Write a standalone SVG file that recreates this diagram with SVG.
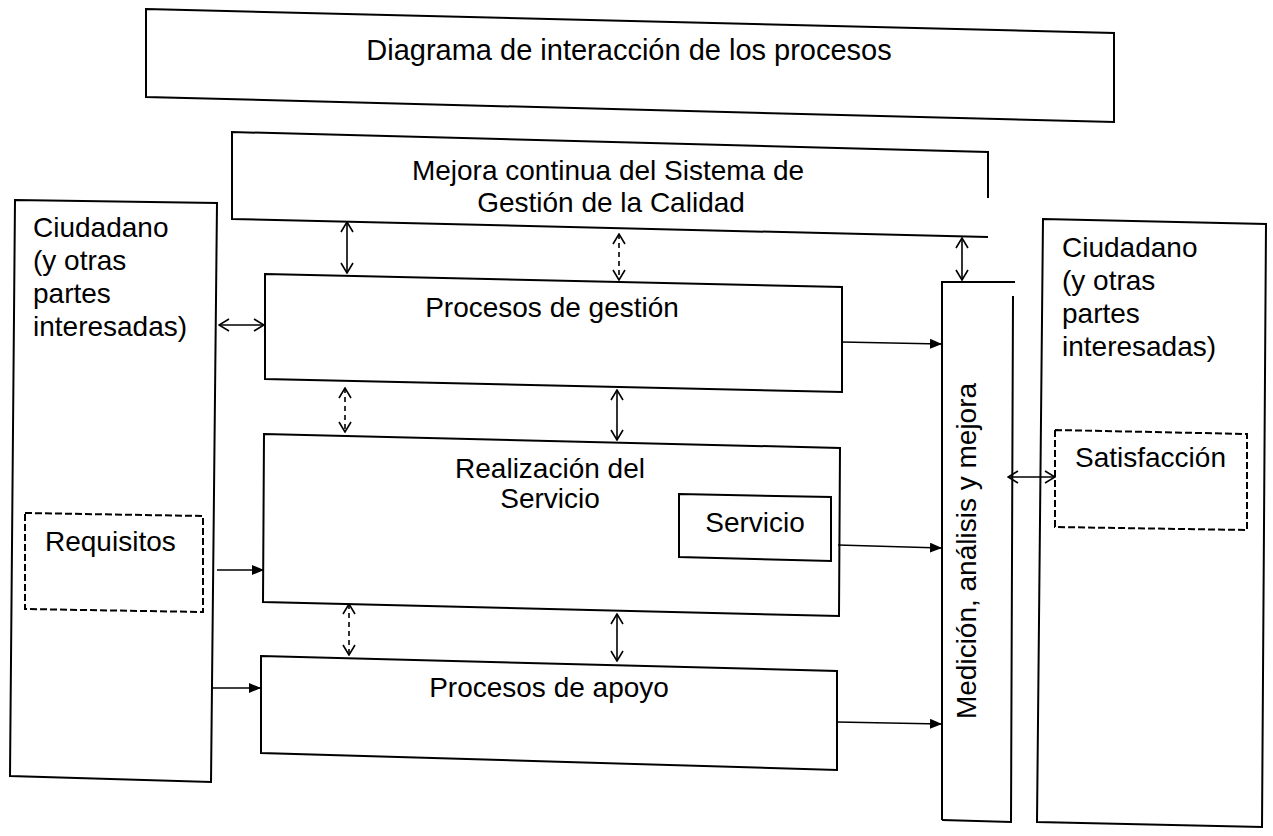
<svg xmlns="http://www.w3.org/2000/svg" width="1273" height="836" viewBox="0 0 1273 836">
<style>
.b{fill:none;stroke:#000;stroke-width:2}
.d{fill:none;stroke:#000;stroke-width:2;stroke-dasharray:7,3}
.t{font-family:"Liberation Sans",Arial,sans-serif;font-size:28px;fill:#000}
.c{text-anchor:middle}
.a1{fill:none;stroke:#000;stroke-width:1.6;marker-end:url(#tri)}
.a2{fill:none;stroke:#000;stroke-width:1.6;marker-start:url(#v);marker-end:url(#v)}
.a2d{fill:none;stroke:#000;stroke-width:1.6;stroke-dasharray:5,4;marker-start:url(#v);marker-end:url(#v)}
</style>
<defs>
<marker id="tri" markerUnits="userSpaceOnUse" markerWidth="12" markerHeight="10" refX="11" refY="5" orient="auto"><path d="M0,0 L12,5 L0,10 Z" fill="#000"/></marker>
<marker id="v" markerUnits="userSpaceOnUse" markerWidth="12" markerHeight="14" refX="11" refY="7" orient="auto-start-reverse"><path d="M1,1 L11,7 L1,13" fill="none" stroke="#000" stroke-width="1.6"/></marker>
</defs>
<rect width="1273" height="836" fill="#fff"/>

<g id="titulo">
<path class="b" d="M146,9 L1114,33 L1114,122 L146,97 Z"/>
<text class="t c" x="629" y="60" style="font-size:29px">Diagrama de interacción de los procesos</text>
</g>

<g id="mejora">
<path class="b" d="M988,198 L988,152 L232,132 L232,219 L988,237"/>
<text class="t c" x="608" y="180">Mejora continua del Sistema de</text>
<text class="t c" x="611" y="212">Gestión de la Calidad</text>
</g>

<g id="ciudadano-izq">
<path class="b" d="M15,200 L217,203 L211,782 L10,776 Z"/>
<text class="t" x="33" y="237">Ciudadano</text>
<text class="t" x="33" y="270">(y otras</text>
<text class="t" x="33" y="303">partes</text>
<text class="t" x="33" y="336">interesadas)</text>
</g>

<g id="requisitos">
<path class="d" d="M25,513 L203,516 L203,612 L25,609 Z"/>
<text class="t" x="45" y="551">Requisitos</text>
</g>

<g id="gestion">
<path class="b" d="M265,274 L842,287 L842,392 L265,379 Z"/>
<text class="t c" x="552" y="317">Procesos de gestión</text>
</g>

<g id="realizacion">
<path class="b" d="M264,434 L840,448 L839,616 L263,602 Z"/>
<text class="t c" x="550" y="478">Realización del</text>
<text class="t c" x="550" y="508">Servicio</text>
</g>

<g id="servicio">
<path class="b" d="M679,494 L831,497 L831,561 L679,557 Z"/>
<text class="t c" x="755" y="532">Servicio</text>
</g>

<g id="apoyo">
<path class="b" d="M261,656 L837,671 L837,770 L261,753 Z"/>
<text class="t c" x="549" y="697">Procesos de apoyo</text>
</g>

<g id="medicion">
<path class="b" d="M942,820 L942,282 L1015,282"/>
<path class="b" d="M1013,296 L1011,822 L942,820"/>
<text class="t c" transform="translate(976,551) rotate(-90)">Medición, análisis y mejora</text>
</g>

<g id="ciudadano-der">
<path class="b" d="M1043,219 L1266,224 L1262,827 L1037,822 Z"/>
<text class="t" x="1062" y="257">Ciudadano</text>
<text class="t" x="1062" y="290">(y otras</text>
<text class="t" x="1062" y="323">partes</text>
<text class="t" x="1062" y="356">interesadas)</text>
</g>

<g id="satisfaccion">
<path class="d" d="M1055,430 L1247,434 L1247,530 L1055,527 Z"/>
<text class="t" x="1075" y="467">Satisfacción</text>
</g>

<g id="conectores">
<line class="a2" x1="347" y1="222" x2="347" y2="273"/>
<line class="a2d" x1="619" y1="234" x2="619" y2="280"/>
<line class="a2" x1="962" y1="238" x2="962" y2="280"/>
<line class="a2d" x1="345" y1="388" x2="345" y2="432"/>
<line class="a2" x1="617" y1="390" x2="617" y2="440"/>
<line class="a2d" x1="349" y1="604" x2="349" y2="655"/>
<line class="a2" x1="617" y1="614" x2="617" y2="661"/>
<line class="a2" x1="219" y1="325" x2="264" y2="325"/>
<line class="a2" x1="1008" y1="477" x2="1055" y2="477"/>
<line class="a1" x1="217" y1="570" x2="263" y2="570"/>
<line class="a1" x1="212" y1="688" x2="260" y2="688"/>
<line class="a1" x1="842" y1="342" x2="941" y2="344"/>
<line class="a1" x1="838" y1="545" x2="941" y2="548"/>
<line class="a1" x1="837" y1="722" x2="941" y2="724"/>
</g>
</svg>
